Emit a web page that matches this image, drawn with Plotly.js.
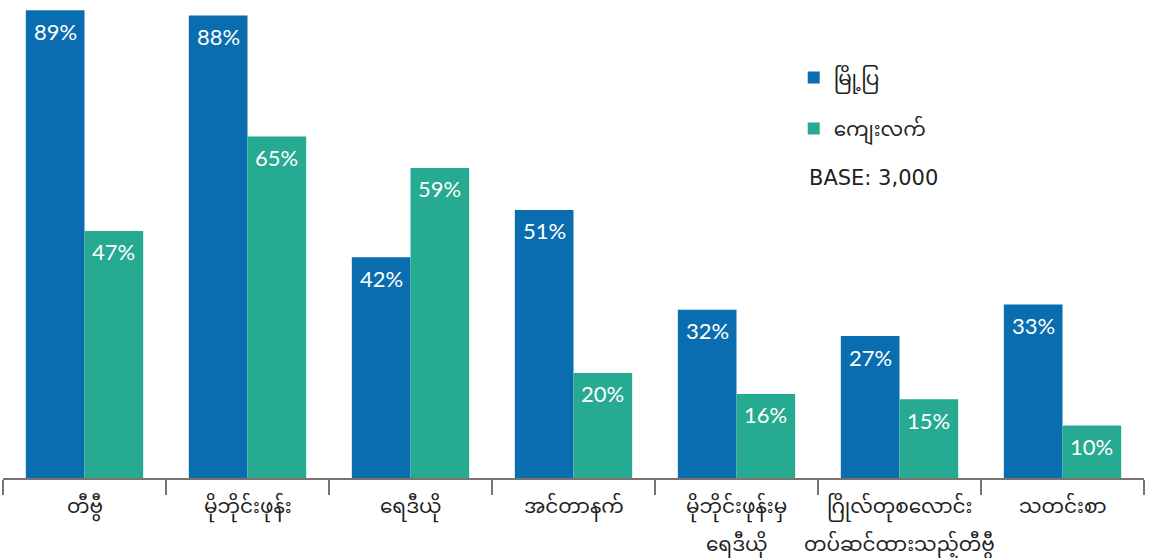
<!DOCTYPE html>
<html><head><meta charset="utf-8">
<script src="https://cdn.plot.ly/plotly-3.0.1.min.js"></script>
<style>html,body{margin:0;padding:0;background:#fff}#c{width:1153px;height:558px}</style>
</head><body><div id="c"></div>
<script>
const categories = ["တီဗွီ","မိုဘိုင်းဖုန်း","ရေဒီယို","အင်တာနက်","မိုဘိုင်းဖုန်းမှ<br>ရေဒီယို","ဂြိုလ်တုစလောင်း<br>တပ်ဆင်ထားသည့်တီဗွီ","သတင်းစာ"];
const seriesNames = ["မြို့ပြ","ကျေးလက်"];
const urban = [89,88,42,51,32,27,33];
const rural = [47,65,59,20,16,15,10];
const baseNote = "BASE: 3,000";

const myFont = "Noto Sans Myanmar, Padauk, Myanmar Text, Noto Sans, sans-serif";
const numFont = "Lato, Open Sans, sans-serif";
const colors = ["#0a6daf","#26aa91"];
const series = [urban, rural];

const traces = series.map((vals,i)=>({
  type:"bar", name:seriesNames[i], x:categories, y:vals, legendgroup:"g"+i,
  marker:{color:colors[i]}, hoverinfo:"skip"
}));

const annotations = [];
series.forEach((vals,i)=>{
  vals.forEach((v,j)=>{
    annotations.push({x:categories[j], y:v, xref:"x", yref:"y", text:v+"%",
      showarrow:false, xshift:(i===0?-29.3:29.3), yshift:-21, yanchor:"middle",
      font:{family:numFont, size:22, color:"#ffffff"}});
  });
});
// category labels (drawn as annotations for wider line spacing)
categories.forEach((c)=>{
  c.split("<br>").forEach((line,k)=>{
    annotations.push({x:c, xref:"x", yref:"paper", y:0, yshift:-30-38*k, yanchor:"middle",
      text:line, showarrow:false, font:{family:myFont, size:20, color:"#222"}});
  });
});
annotations.push({xref:"paper", yref:"paper", x:0.7045, y:0.634, xanchor:"left", yanchor:"middle",
  text:baseNote, showarrow:false, font:{family:"DejaVu Sans, sans-serif", size:21, color:"#222"}});

const layout = {
  width:1153, height:558,
  margin:{l:3, r:9, t:5, b:80},
  paper_bgcolor:"#fff", plot_bgcolor:"#fff",
  barmode:"group", bargap:0.28, bargroupgap:0,
  showlegend:true,
  legend:{x:0.693, y:0.888, xanchor:"left", yanchor:"top", traceorder:"grouped", font:{family:myFont, size:20, color:"#222"}, tracegroupgap:22, bgcolor:"rgba(0,0,0,0)"},
  xaxis:{showline:true, linecolor:"#7d7270", linewidth:1.5, ticks:"outside", tickson:"boundaries", ticklen:15, tickcolor:"#7d7270", tickwidth:1.5,
    showticklabels:false, automargin:false, showgrid:false, zeroline:false, fixedrange:true},
  yaxis:{range:[0,90], visible:false, showgrid:false, zeroline:false, fixedrange:true},
  annotations:annotations
};
Plotly.newPlot("c", traces, layout, {displayModeBar:false, staticPlot:true});
</script></body></html>
